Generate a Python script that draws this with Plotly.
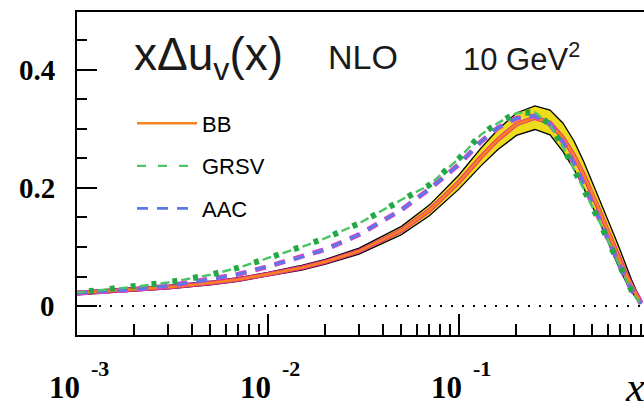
import plotly.graph_objects as go

# ---------------- data ----------------
x_vals = [0.001, 0.002, 0.003, 0.005, 0.007, 0.01, 0.015, 0.02, 0.03, 0.05, 0.07,
          0.1, 0.13, 0.16, 0.2, 0.25, 0.3, 0.35, 0.4, 0.45, 0.5, 0.55, 0.6, 0.65,
          0.7, 0.75, 0.8, 0.85, 0.9]

bb_center = [0.022, 0.028, 0.032, 0.039, 0.045, 0.054, 0.065, 0.075, 0.093, 0.128, 0.162,
             0.210, 0.252, 0.282, 0.308, 0.319, 0.310, 0.285, 0.255, 0.222, 0.190, 0.158,
             0.128, 0.100, 0.076, 0.054, 0.035, 0.019, 0.006]
bb_upper = [0.025, 0.031, 0.035, 0.042, 0.048, 0.057, 0.069, 0.079, 0.098, 0.135, 0.171,
            0.222, 0.267, 0.299, 0.327, 0.339, 0.332, 0.310, 0.280, 0.245, 0.210, 0.178,
            0.148, 0.120, 0.094, 0.068, 0.045, 0.026, 0.010]
bb_lower = [0.019, 0.025, 0.029, 0.036, 0.042, 0.051, 0.061, 0.071, 0.088, 0.121, 0.153,
            0.198, 0.237, 0.265, 0.289, 0.299, 0.290, 0.262, 0.232, 0.200, 0.170, 0.140,
            0.110, 0.083, 0.060, 0.041, 0.025, 0.012, 0.004]
grsv = [0.023, 0.0325, 0.040, 0.053, 0.065, 0.081, 0.100, 0.115, 0.140, 0.180, 0.205,
        0.250, 0.290, 0.310, 0.327, 0.328, 0.307, 0.270, 0.232, 0.200, 0.170, 0.140,
        0.112, 0.087, 0.064, 0.044, 0.027, 0.013, 0.004]
aac = [0.022, 0.028, 0.034, 0.045, 0.054, 0.067, 0.083, 0.096, 0.121, 0.163, 0.198,
       0.240, 0.278, 0.302, 0.318, 0.322, 0.308, 0.278, 0.242, 0.207, 0.175, 0.144,
       0.115, 0.089, 0.066, 0.046, 0.028, 0.014, 0.004]

series_names = ["BB", "GRSV", "AAC"]
x_decades = [-3, -2, -1]
x_tick_base = "10"
x_tick_exp = ["-3", "-2", "-1"]
y_major = [0, 0.2, 0.4]
y_major_labels = ["0", "0.2", "0.4"]
y_minor = [-0.05, 0.05, 0.1, 0.15, 0.25, 0.3, 0.35, 0.45]
x_minor = [m * 10 ** d for d in x_decades for m in range(2, 10)]

title_left = "x\u0394u<sub>v</sub>(x)"
title_mid = "NLO"
title_right = "10 GeV<sup>2</sup>"
x_title = "x"

# ---------------- figure ----------------
fig = go.Figure()

# BB error band
fig.add_trace(go.Scatter(x=x_vals, y=bb_lower, mode="lines",
                         line=dict(color="black", width=1.3), showlegend=False))
fig.add_trace(go.Scatter(x=x_vals, y=bb_upper, mode="lines", fill="tonexty",
                         fillcolor="#ecdc1c", line=dict(color="black", width=1.3),
                         showlegend=False))
# BB central (magenta underlay + orange)
fig.add_trace(go.Scatter(x=x_vals, y=bb_center, mode="lines",
                         line=dict(color="#e8308c", width=4.5), showlegend=False))
fig.add_trace(go.Scatter(x=x_vals, y=bb_center, mode="lines", name=series_names[0],
                         legendgroup="bb", legendrank=1,
                         line=dict(color="#f7821f", width=2.6)))
# AAC (magenta underlay + blue dashes)
fig.add_trace(go.Scatter(x=x_vals, y=aac, mode="lines", showlegend=False,
                         line=dict(color="#d846c8", width=5, dash="11px,9px")))
fig.add_trace(go.Scatter(x=x_vals, y=aac, mode="lines", name=series_names[2],
                         legendgroup="aac", legendrank=3,
                         line=dict(color="#5a78e6", width=2.8, dash="11px,9px")))
# GRSV (dashes + dots)
fig.add_trace(go.Scatter(x=x_vals, y=grsv, mode="lines", name=series_names[1],
                         legendgroup="grsv", legendrank=2,
                         line=dict(color="#4cc466", width=2.4, dash="9px,12px")))
fig.add_trace(go.Scatter(x=x_vals, y=grsv, mode="lines", showlegend=False,
                         line=dict(color="#22a844", width=6, dash="0px,12px,5px,4px")))

# zero line (dotted)
fig.add_shape(type="line", xref="paper", x0=0, x1=1, yref="y", y0=0, y1=0,
              line=dict(color="black", width=2, dash="2px,9px"), layer="below")

serif = "Liberation Serif, Times New Roman, serif"
sans = "Liberation Sans, Arial, sans-serif"

annotations = []
# y tick labels
for v, lab in zip(y_major, y_major_labels):
    annotations.append(dict(x=0, xref="paper", y=v, yref="y", text="<b>%s</b>" % lab,
                            showarrow=False, xanchor="right", yanchor="middle",
                            xshift=-20, font=dict(family=serif, size=29, color="black")))
# x tick labels
for d, e in zip(x_decades, x_tick_exp):
    annotations.append(dict(x=d, xref="x", y=0, yref="paper", text="<b>%s</b>" % x_tick_base,
                            showarrow=False, xanchor="right", yanchor="middle",
                            xshift=5, yshift=-52,
                            font=dict(family=serif, size=31, color="black")))
    annotations.append(dict(x=d, xref="x", y=0, yref="paper", text="<b>%s</b>" % e,
                            showarrow=False, xanchor="left", yanchor="middle",
                            xshift=12, yshift=-33,
                            font=dict(family=serif, size=22, color="black")))
# x axis title
annotations.append(dict(x=1, xref="paper", y=0, yref="paper", text="<i>%s</i>" % x_title,
                        showarrow=False, xanchor="left", yanchor="middle",
                        xshift=-21, yshift=-52,
                        font=dict(family=serif, size=42, color="black")))
# in-plot texts
annotations.append(dict(x=0, xref="paper", y=1, yref="paper", text=title_left,
                        showarrow=False, xanchor="left", yanchor="middle",
                        xshift=55, yshift=-45,
                        font=dict(family=sans, size=46, color="#1a1a1a")))
annotations.append(dict(x=0, xref="paper", y=1, yref="paper", text=title_mid,
                        showarrow=False, xanchor="left", yanchor="middle",
                        xshift=249, yshift=-45,
                        font=dict(family=sans, size=34, color="#1a1a1a")))
annotations.append(dict(x=0, xref="paper", y=1, yref="paper", text=title_right,
                        showarrow=False, xanchor="left", yanchor="middle",
                        xshift=384, yshift=-45,
                        font=dict(family=sans, size=31, color="#1a1a1a")))

fig.update_layout(
    width=644, height=405,
    margin=dict(l=77, r=0, t=12, b=70),
    paper_bgcolor="white", plot_bgcolor="white",
    annotations=annotations,
    showlegend=True,
    legend=dict(x=0.097, y=0.72, xanchor="left", yanchor="top",
                bgcolor="rgba(0,0,0,0)", borderwidth=0,
                font=dict(family=sans, size=22, color="black"),
                tracegroupgap=11, itemwidth=60, traceorder="grouped"),
    xaxis=dict(type="log", range=[-3, -0.031], showgrid=False, zeroline=False,
               showline=True, linecolor="black", linewidth=2, mirror=True,
               ticks="inside", ticklen=21, tickwidth=2, tickcolor="black",
               tickvals=[10 ** d for d in x_decades], showticklabels=False,
               minor=dict(ticks="inside", ticklen=11, tickwidth=2, tickcolor="black",
                          tickvals=x_minor, showgrid=False)),
    yaxis=dict(range=[-0.049, 0.498], showgrid=False, zeroline=False,
               showline=True, linecolor="black", linewidth=2, mirror=False,
               ticks="inside", ticklen=20, tickwidth=2, tickcolor="black",
               tickvals=y_major, showticklabels=False,
               minor=dict(ticks="inside", ticklen=10, tickwidth=2, tickcolor="black",
                          tickvals=y_minor, showgrid=False)),
)

fig.write_html("out.html")
